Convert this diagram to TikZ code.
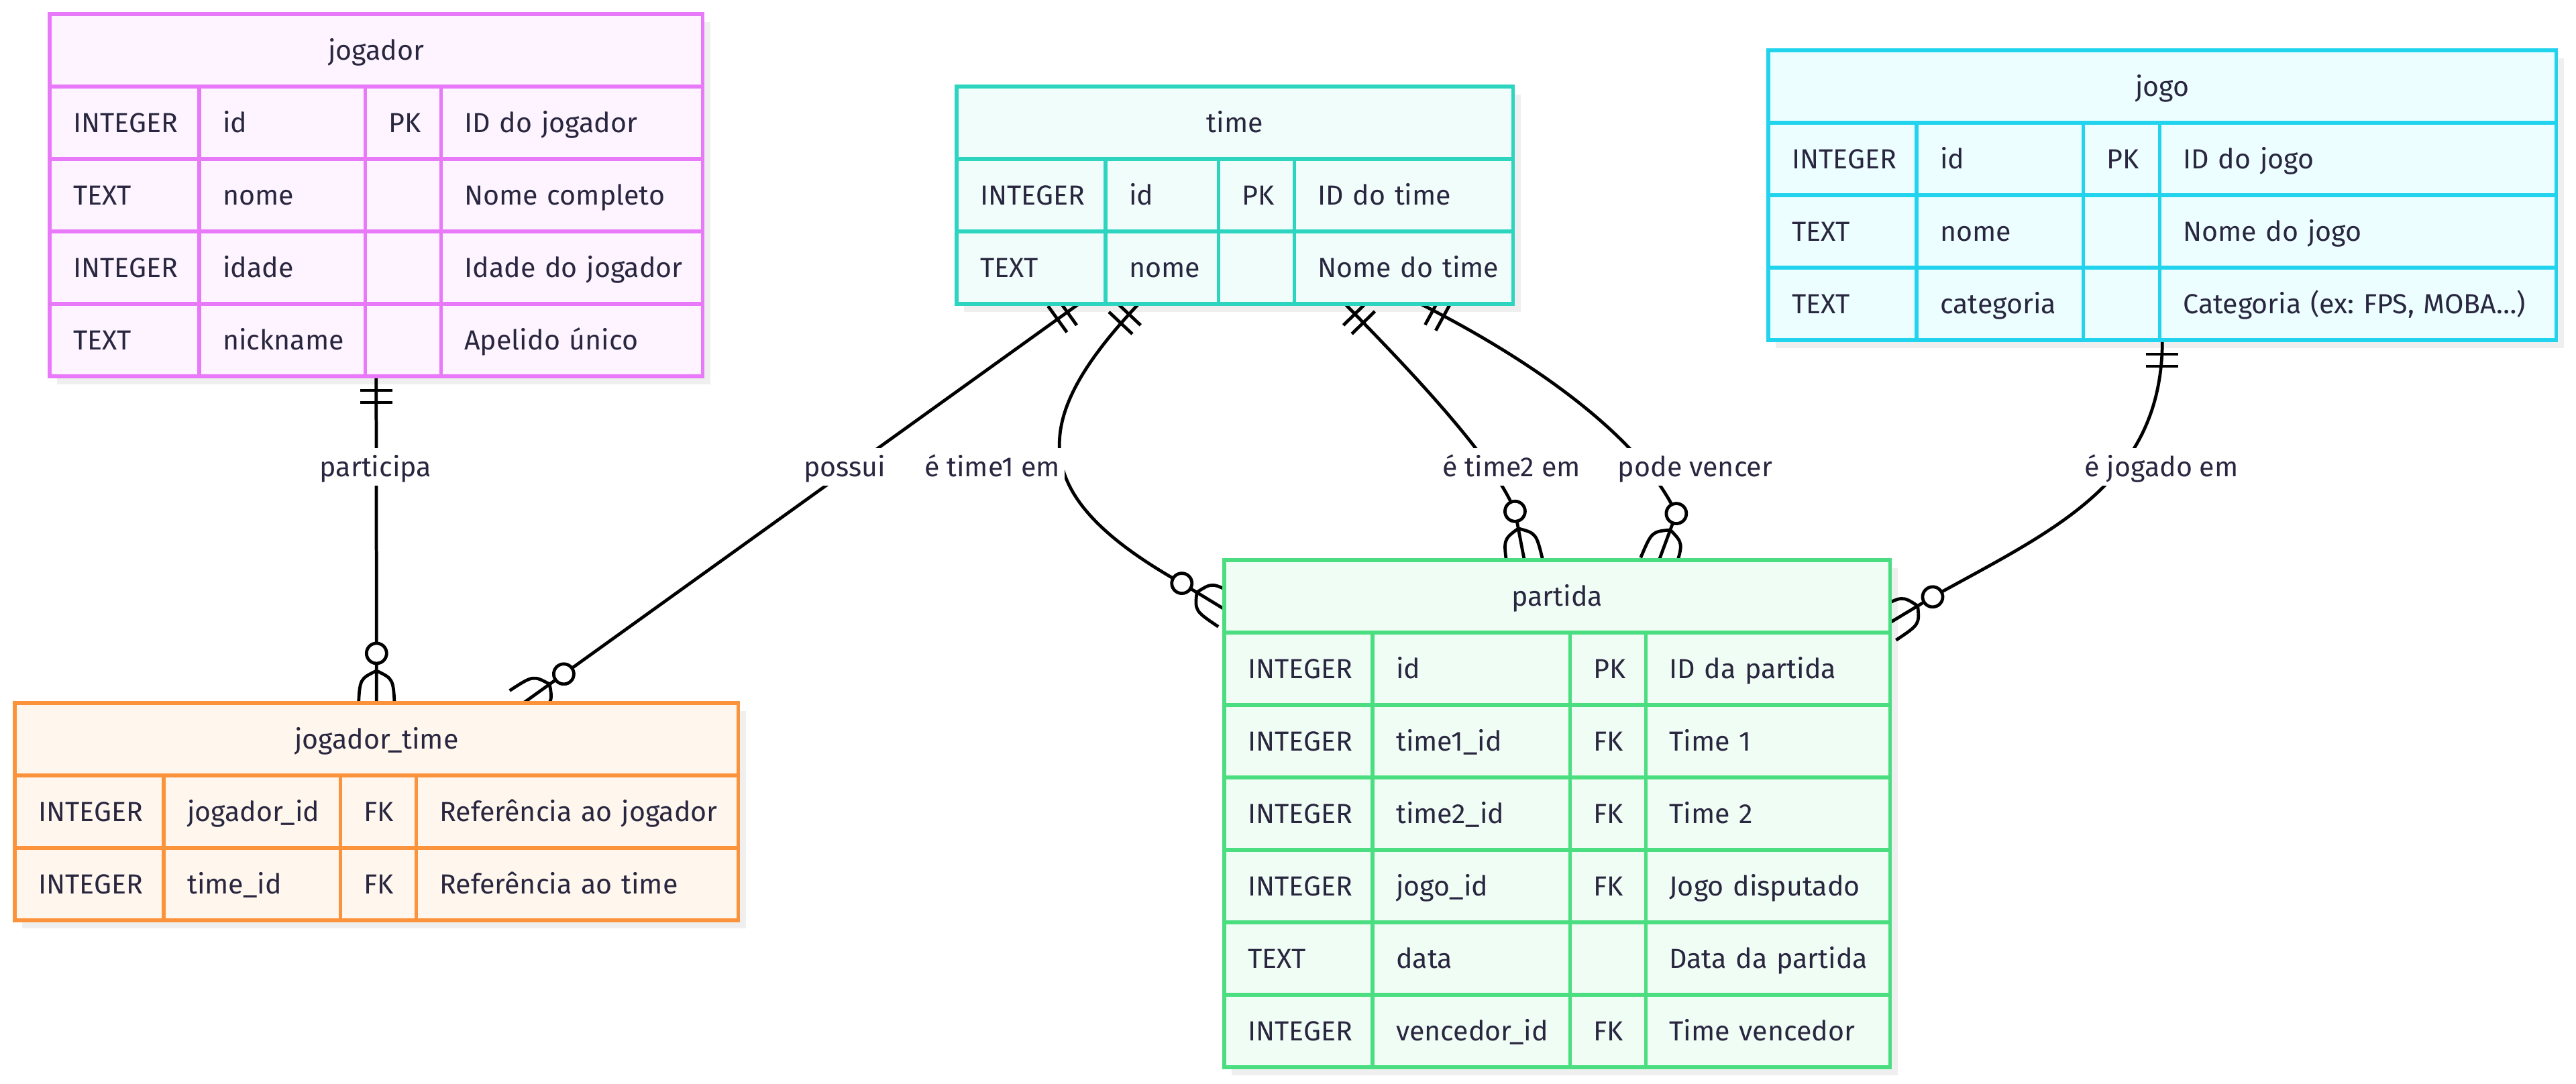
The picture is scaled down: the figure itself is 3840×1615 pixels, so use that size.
\documentclass[tikz,border=0pt]{standalone}
\usepackage{fontspec}
\setmainfont{Fira Sans}
\usetikzlibrary{positioning,calc}

\definecolor{tinta}{HTML}{29263F}
\definecolor{rosa}{HTML}{E879F9}
\definecolor{rosafundo}{HTML}{FDF4FF}
\definecolor{agua}{HTML}{2DD4BF}
\definecolor{aguafundo}{HTML}{F0FDFA}
\definecolor{ciano}{HTML}{22D3EE}
\definecolor{cianofundo}{HTML}{ECFEFF}
\definecolor{laranja}{HTML}{FB923C}
\definecolor{laranjafundo}{HTML}{FFF7ED}
\definecolor{verde}{HTML}{4ADE80}
\definecolor{verdefundo}{HTML}{F0FDF4}
\definecolor{cinza}{HTML}{EFEFEF}

\pgfdeclarelayer{fundo}
\pgfdeclarelayer{sombra}
\pgfdeclarelayer{arestas}
\pgfsetlayers{fundo,sombra,arestas,main}

% || junto da entidade
\newcommand{\umesomenteum}[2]{
  \draw[aresta, shift={(#1)}, rotate=#2]
    (0.21cm,-0.24cm) -- (0.21cm,0.24cm) (0.39cm,-0.24cm) -- (0.39cm,0.24cm);}
% o{ junto da entidade
\newcommand{\zerooumuitos}[2]{
  \draw[aresta, shift={(#1)}, rotate=#2]
    (-0.06cm,0) -- (0.74cm,0)
    (0.48cm,0) .. controls (0.36cm,0.25cm) .. (-0.06cm,0.27cm)
    (0.48cm,0) .. controls (0.36cm,-0.25cm) .. (-0.06cm,-0.27cm);
  \draw[aresta, fill=white, shift={(#1)}, rotate=#2] (0.74cm,0) circle[radius=0.15cm];}

\begin{document}
\frenchspacing
\begin{tikzpicture}[x=0.01cm, y=-0.01cm,
    font=\fontsize{11.7}{14}\selectfont,
    every node/.style={text=tinta, outer sep=0pt},
    cab/.style={draw=#1, fill=#1fundo, line width=1.55pt, minimum height=1.08cm,
        inner sep=0pt, text height=10.8pt, text depth=2.7pt, anchor=north west},
    cel/.style 2 args={draw=#1, fill=#1fundo, line width=1.55pt, minimum height=1.08cm,
        text width=#2, inner xsep=0.35cm, inner ysep=0pt, align=left,
        text height=10.8pt, text depth=2.7pt, anchor=north west},
    rotulo/.style={fill=white, inner xsep=2pt, inner ysep=1.3pt, text height=10.8pt, text depth=2.7pt},
    aresta/.style={line width=1.35pt, black}]
  \useasboundingbox (0,0) rectangle (3840,1615);
  \begin{pgfonlayer}{fundo}
    \fill[white] (0,0) rectangle (3840,1615);
  \end{pgfonlayer}

  % jogador
  \node[cab=rosa, minimum width=9.73cm] (jogador) at (74,21) {jogador};
  \foreach \tp/\nm/\ch/\ds [count=\i] in {INTEGER/id/PK/ID do jogador,
      TEXT/nome//Nome completo, INTEGER/idade//Idade do jogador, TEXT/nickname//Apelido único} {
    \node[cel={rosa}{1.53cm}] (jogador-\i-1) at (74,{21+108*\i}) {\tp};
    \node[cel={rosa}{1.77cm}, right=0pt of jogador-\i-1] (jogador-\i-2) {\nm};
    \node[cel={rosa}{0.43cm}, right=0pt of jogador-\i-2] (jogador-\i-3) {\ch};
    \node[cel={rosa}{3.20cm}, right=0pt of jogador-\i-3] (jogador-\i-4) {\mbox{\ds}};
  }

  % time
  \node[cab=agua, minimum width=8.29cm] (time) at (1426,129) {time};
  \foreach \tp/\nm/\ch/\ds [count=\i] in {INTEGER/id/PK/ID do time, TEXT/nome//Nome do time} {
    \node[cel={agua}{1.52cm}] (time-\i-1) at (1426,{129+108*\i}) {\tp};
    \node[cel={agua}{0.98cm}, right=0pt of time-\i-1] (time-\i-2) {\nm};
    \node[cel={agua}{0.43cm}, right=0pt of time-\i-2] (time-\i-3) {\ch};
    \node[cel={agua}{2.56cm}, right=0pt of time-\i-3] (time-\i-4) {\mbox{\ds}};
  }

  % jogo
  \node[cab=ciano, minimum width=11.74cm] (jogo) at (2636,75) {jogo};
  \foreach \tp/\nm/\ch/\ds [count=\i] in {INTEGER/id/PK/ID do jogo, TEXT/nome//Nome do jogo,
      {TEXT/categoria//Categoria (ex: FPS, MOBA\ldots)}} {
    \node[cel={ciano}{1.51cm}] (jogo-\i-1) at (2636,{75+108*\i}) {\tp};
    \node[cel={ciano}{1.78cm}, right=0pt of jogo-\i-1] (jogo-\i-2) {\nm};
    \node[cel={ciano}{0.44cm}, right=0pt of jogo-\i-2] (jogo-\i-3) {\ch};
    \node[cel={ciano}{5.21cm}, right=0pt of jogo-\i-3] (jogo-\i-4) {\mbox{\ds}};
  }

  % jogador_time
  \node[cab=laranja, minimum width=10.78cm] (jtime) at (22,1048) {jogador\_time};
  \foreach \tp/\nm/\ch/\ds [count=\i] in {INTEGER/jogador\_id/FK/Referência ao jogador,
      INTEGER/time\_id/FK/Referência ao time} {
    \node[cel={laranja}{1.52cm}] (jtime-\i-1) at (22,{1048+108*\i}) {\tp};
    \node[cel={laranja}{1.93cm}, right=0pt of jtime-\i-1] (jtime-\i-2) {\nm};
    \node[cel={laranja}{0.43cm}, right=0pt of jtime-\i-2] (jtime-\i-3) {\ch};
    \node[cel={laranja}{4.10cm}, right=0pt of jtime-\i-3] (jtime-\i-4) {\mbox{\ds}};
  }

  % partida
  \node[cab=verde, minimum width=9.92cm] (partida) at (1825,835) {partida};
  \foreach \tp/\nm/\ch/\ds [count=\i] in {INTEGER/id/PK/ID da partida,
      INTEGER/time1\_id/FK/Time 1, INTEGER/time2\_id/FK/Time 2, INTEGER/jogo\_id/FK/Jogo disputado,
      TEXT/data//Data da partida, INTEGER/vencedor\_id/FK/Time vencedor} {
    \node[cel={verde}{1.51cm}] (partida-\i-1) at (1825,{835+108*\i}) {\tp};
    \node[cel={verde}{2.24cm}, right=0pt of partida-\i-1] (partida-\i-2) {\nm};
    \node[cel={verde}{0.43cm}, right=0pt of partida-\i-2] (partida-\i-3) {\ch};
    \node[cel={verde}{2.94cm}, right=0pt of partida-\i-3] (partida-\i-4) {\mbox{\ds}};
  }

  \begin{pgfonlayer}{sombra}
    \foreach \a/\b in {jogador/jogador-4-4, time/time-2-4, jogo/jogo-3-4, jtime/jtime-2-4, partida/partida-6-4}
      \fill[cinza] ([shift={(11,12)}]\a.north west) rectangle ([shift={(11,12)}]\b.south east);
  \end{pgfonlayer}

  \coordinate (e1a) at (jogador |- jogador-4-1.south);
  \coordinate (e1b) at (jtime.north);
  \coordinate (e2a) at ($(time-2-1.south west)!0.2195!(time-2-4.south east)$);
  \coordinate (e2b) at ($(jtime.north west)!0.703!(jtime.north east)$);
  \coordinate (e3a) at ($(time-2-1.south west)!0.327!(time-2-4.south east)$);
  \coordinate (e3b) at ($(partida.north west)!0.676!(partida.south west)$);
  \coordinate (e4a) at ($(time-2-1.south west)!0.698!(time-2-4.south east)$);
  \coordinate (e4b) at ($(partida.north west)!0.4506!(partida.north east)$);
  \coordinate (e5a) at ($(time-2-1.south west)!0.8335!(time-2-4.south east)$);
  \coordinate (e5b) at ($(partida.north west)!0.653!(partida.north east)$);
  \coordinate (e6a) at (jogo |- jogo-3-1.south);
  \coordinate (e6b) at ($(partida.north east)!0.861!(partida.south east)$);

  \begin{pgfonlayer}{arestas}
    \draw[aresta] (e1a) -- ($(e1b)+(90:0.74cm)$);
    \draw[aresta] (e2a) -- ($(e2b)+(35.7:0.74cm)$);
    \draw[aresta] (e3a) .. controls +(-167,177) and +(-231,-130) .. ($(e3b)+(148.7:0.74cm)$);
    \draw[aresta] (e4a) .. controls +(95,97) and +(-31,-79) .. ($(e4b)+(100.8:0.74cm)$);
    \draw[aresta] (e5a) .. controls +(143,72) and +(-59,-125) .. ($(e5b)+(69.7:0.74cm)$);
    \draw[aresta] (e6a) .. controls +(0,213) and +(180,-100) .. ($(e6b)+(31.1:0.74cm)$);
    \umesomenteum{e1a}{-90}
    \umesomenteum{e2a}{-144.3}
    \umesomenteum{e3a}{-133.3}
    \umesomenteum{e4a}{-45.6}
    \umesomenteum{e5a}{-28.5}
    \umesomenteum{e6a}{-90}
    \zerooumuitos{e1b}{90}
    \zerooumuitos{e2b}{35.7}
    \zerooumuitos{e3b}{148.7}
    \zerooumuitos{e4b}{100.8}
    \zerooumuitos{e5b}{69.7}
    \zerooumuitos{e6b}{31.1}
    \node[rotulo] (participa) at (560,696) {participa};
    \node[rotulo] (possui) at (1259,696) {possui};
    \node[rotulo] (time1) at (1479,696) {é time1 em};
    \node[rotulo] (time2) at (2253,696) {é time2 em};
    \node[rotulo] (vence) at (2527,696) {pode vencer};
    \node[rotulo] (jogadoem) at (3222,696) {é jogado em};
  \end{pgfonlayer}
\end{tikzpicture}
\end{document}
